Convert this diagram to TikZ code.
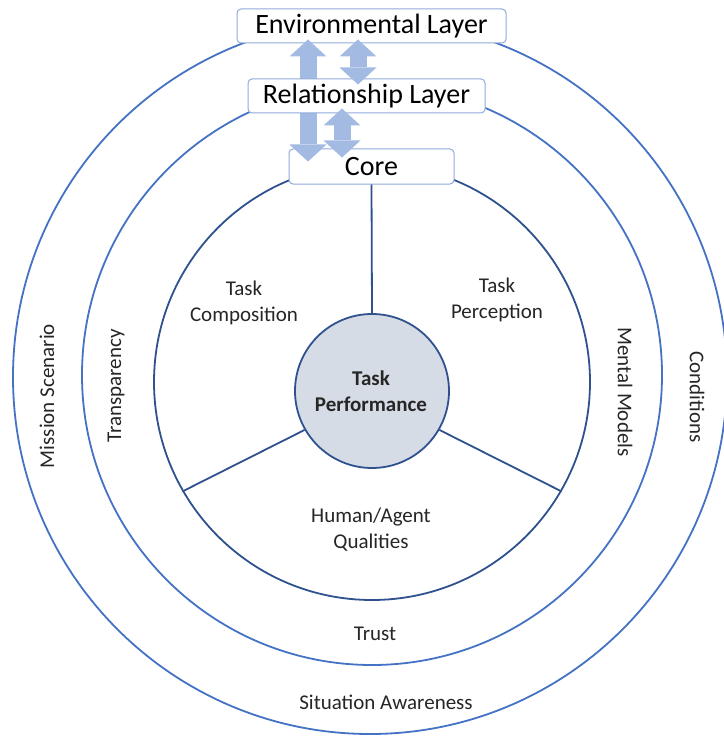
\documentclass[tikz,border=0pt]{standalone}
\usepackage{fontspec}
\setmainfont{Carlito}
\usetikzlibrary{arrows.meta}
\definecolor{ringblue}{HTML}{4472C4}
\definecolor{darkblue}{HTML}{2F528F}
\definecolor{boxline}{HTML}{8FAADC}
\definecolor{arrowfill}{HTML}{A3BBE3}
\definecolor{tpfill}{HTML}{D6DCE5}
\definecolor{txt}{HTML}{262626}
\begin{document}
\begin{tikzpicture}[x=1pt,y=-1pt,
  ring/.style={circle, draw=ringblue, line width=1.8pt, inner sep=0pt},
  innerring/.style={circle, draw=darkblue, line width=1.8pt, inner sep=0pt},
  layerbox/.style={draw=boxline, line width=1pt, fill=white, rounded corners=4pt, inner sep=0pt, font=\fontsize{28}{32}\selectfont, text=black},
  lbl/.style={font=\fontsize{21}{26}\selectfont, text=txt, align=center, inner sep=0pt},
  spoke/.style={draw=darkblue, line width=1.8pt},
  fatarrow/.style={draw=arrowfill, line width=17pt,
    {Triangle[width=37pt,length=17pt,line width=0pt]}-{Triangle[width=37pt,length=17pt,line width=0pt]}}]
\useasboundingbox (0,0) rectangle (723,738);
\fill[white] (0,0) rectangle (723,738);
% rings
\node[ring, minimum size=714pt] (outer) at (370,377) {};
\node[ring, minimum size=580pt] (middle) at (372,375) {};
\node[innerring, minimum size=436pt] (inner) at (372,382) {};
\node[circle, draw=darkblue, fill=tpfill, line width=1.8pt, minimum size=154pt, inner sep=0pt] (tp) at (372,391) {};
\node[lbl, font=\fontsize{21}{26}\selectfont\bfseries] (tptext) at (371,391) {Task\\Performance};
% boxes
\node[layerbox, minimum width=165pt, minimum height=35pt] (core) at (371.5,166.5) {Core};
\draw[spoke] (core.south) -- (tp.north);
\draw[spoke] (tp.210) -- (inner.210);
\draw[spoke] (tp.330) -- (inner.330);
\node[layerbox, minimum width=269pt, minimum height=34pt] (env) at (371.5,26) {Environmental Layer};
\draw[fatarrow] ([xshift=-63.5pt,yshift=4pt]env.south) -- ([xshift=-63.5pt,yshift=-13pt]core.north);
\node[layerbox, minimum width=237pt, minimum height=34pt] (rel) at (366.5,96) {Relationship Layer};
\draw[fatarrow] ([xshift=-13.5pt,yshift=4pt]env.south) -- ([xshift=-8.5pt,yshift=-6pt]rel.north);
\draw[fatarrow] ([xshift=-24.5pt,yshift=5pt]rel.south) -- ([xshift=-29.5pt,yshift=-9pt]core.north);
% labels
\node[lbl] (tc) at (244,303) {Task\\Composition};
\node[lbl] (tpe) at (497,300) {Task\\Perception};
\node[lbl] (haq) at (371,530) {Human/Agent\\Qualities};
\node[lbl] (trust) at (375,634) {Trust};
\node[lbl] (sa) at (386,702) {Situation Awareness};
\node[lbl, rotate=90] (ms) at (47,396) {Mission Scenario};
\node[lbl, rotate=90] (tr) at (116,386) {Transparency};
\node[lbl, rotate=-90] (mm) at (625,392) {Mental Models};
\node[lbl, rotate=-90] (cond) at (697,397) {Conditions};
\end{tikzpicture}
\end{document}
